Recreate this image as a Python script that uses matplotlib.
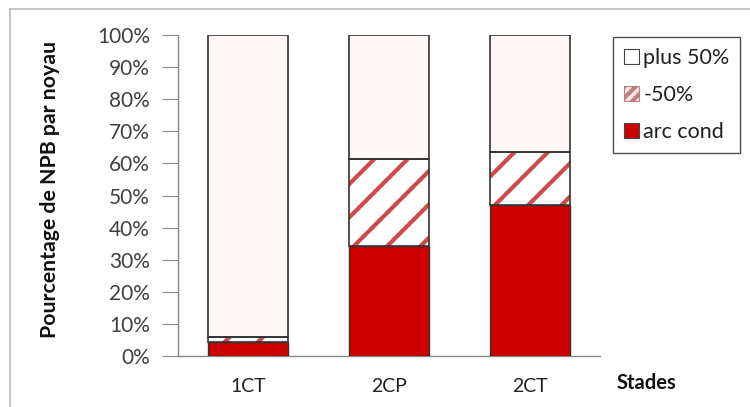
import matplotlib
matplotlib.use("Agg")
import matplotlib.pyplot as plt
from matplotlib.patches import Patch
from matplotlib.lines import Line2D
import numpy as np

stades = ["1CT", "2CP", "2CT"]
arc_cond = [4.5, 34.3, 47.0]
moins_50 = [1.5, 27.1, 16.5]
plus_50 = [94.0, 38.6, 36.5]
yticks = [0, 10, 20, 30, 40, 50, 60, 70, 80, 90, 100]
ytick_labels = [f"{v}%" for v in yticks]

DPI = 200
K = 100 / DPI  # scale points from a 100-dpi design

plt.rcParams['font.family'] = ['Lato', 'DejaVu Sans']
plt.rcParams['hatch.linewidth'] = 1.5
plt.rcParams['hatch.color'] = '#d04a4a'

fig = plt.figure(figsize=(750 / DPI, 407 / DPI), dpi=DPI)
fig.patch.set_facecolor('white')
ax = fig.add_axes([178 / 750, 1 - 356 / 407, (600 - 178) / 750, (356 - 35) / 407])

red = '#cc0000'
light = '#fdf7f5'
edge = '#333333'
x = np.arange(len(stades))
w = 0.57

b1 = np.array(arc_cond)
b2 = b1 + np.array(moins_50)

ax.bar(x, arc_cond, w, color=red, edgecolor=edge, linewidth=1.0 * K, zorder=3)
ax.bar(x, moins_50, w, bottom=b1, color='white', edgecolor='#d04a4a', hatch='//',
       linewidth=0, zorder=3)
ax.bar(x, moins_50, w, bottom=b1, fill=False, edgecolor=edge, linewidth=1.2 * K, zorder=4)
ax.bar(x, plus_50, w, bottom=b2, color=light, edgecolor=edge, linewidth=1.2 * K, zorder=3)

ax.set_xlim(-0.5, 2.5)
ax.set_ylim(0, 100)
ax.set_yticks(yticks)
ax.set_yticklabels(ytick_labels, fontsize=15 * K, color='#404040')
ax.set_xticks(x)
ax.set_xticklabels(stades, fontsize=14 * K, color='#202020')
ax.tick_params(axis='y', length=8 * K * 1.4, width=0.8 * K, color='#888888', pad=9 * K)
ax.tick_params(axis='x', length=0, pad=16 * K)
for s in ['top', 'right']:
    ax.spines[s].set_visible(False)
for s in ['left', 'bottom']:
    ax.spines[s].set_color('#888888')
    ax.spines[s].set_linewidth(1.0 * K)

fig.text(50 / 750, 1 - 190 / 407, "Pourcentage de NPB par noyau", rotation=90,
         ha='center', va='center', fontsize=15.3 * K, fontweight='bold', color='#111111')
fig.text(646 / 750, 1 - 383 / 407, "Stades", ha='center', va='center',
         fontsize=14.5 * K, fontweight='bold', color='#111111')

handles = [
    Patch(facecolor='white', edgecolor='#444444', linewidth=0.8 * K),
    Patch(facecolor='#f8e8e8', edgecolor='#c08080', hatch='//////', linewidth=0.8 * K),
    Patch(facecolor=red, edgecolor='#444444', linewidth=0.8 * K),
]
leg = fig.legend(handles, ["plus 50%", "-50%", "arc cond"], loc='upper left',
                 bbox_to_anchor=(613 / 750, 1 - 37 / 407), fontsize=15.5 * K,
                 frameon=True, fancybox=False, edgecolor='#222222',
                 handlelength=0.7, handleheight=0.7, handletextpad=0.2,
                 labelspacing=0.8, borderpad=0.5, borderaxespad=0)
leg.get_frame().set_linewidth(1.0 * K)
for t in leg.get_texts():
    t.set_color('#202020')

# outer chart border (top and left visible)
fig.add_artist(Line2D([10 / 750, 1], [1 - 9 / 407, 1 - 9 / 407], color='#bbbbbb',
                      linewidth=1.2 * K, transform=fig.transFigure))
fig.add_artist(Line2D([10 / 750, 10 / 750], [0, 1 - 9 / 407], color='#bbbbbb',
                      linewidth=1.2 * K, transform=fig.transFigure))

fig.savefig("out.png", dpi=DPI)
